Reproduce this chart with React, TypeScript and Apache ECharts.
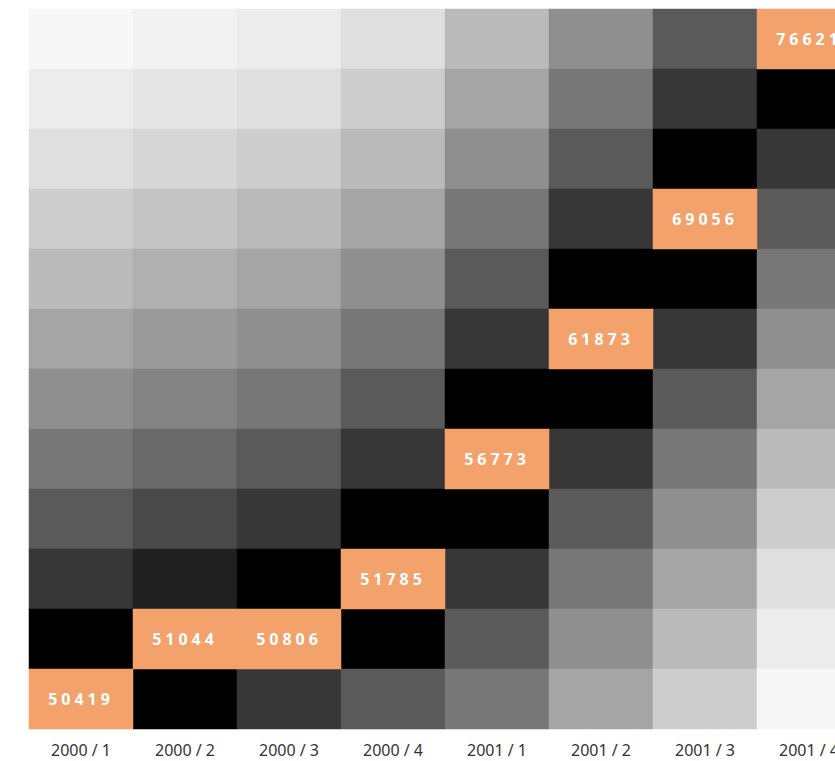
import React, { useEffect, useRef } from "react";
import * as echarts from "echarts";

const periods = ["2000 / 1", "2000 / 2", "2000 / 3", "2000 / 4", "2001 / 1", "2001 / 2", "2001 / 3", "2001 / 4"];
const rowBins = ["r0", "r1", "r2", "r3", "r4", "r5", "r6", "r7", "r8", "r9", "r10", "r11"];

// row (from top) of the highlighted cell in each period, and its value
const peakRow = [11, 10, 10, 9, 7, 5, 3, 0];
const peakValue = [50419, 51044, 50806, 51785, 56773, 61873, 69056, 76621];

// shade level of each cell (rows from top); 0 marks the highlighted cell
const levels = [
  [11, 10.5, 10, 9, 7, 5, 3, 0],
  [10, 9.5, 9, 8, 6, 4, 2, 1],
  [9, 8.5, 8, 7, 5, 3, 1, 2],
  [8, 7.5, 7, 6, 4, 2, 0, 3],
  [7, 6.5, 6, 5, 3, 1, 1, 4],
  [6, 5.5, 5, 4, 2, 0, 2, 5],
  [5, 4.5, 4, 3, 1, 1, 3, 6],
  [4, 3.5, 3, 2, 0, 2, 4, 7],
  [3, 2.5, 2, 1, 1, 3, 5, 8],
  [2, 1.6, 1, 0, 2, 4, 6, 9],
  [1, 0, 0, 1, 3, 5, 7, 10],
  [0, 1, 2, 3, 4, 6, 8, 11],
];

const grayScale = ["#000000", "#373737", "#5a5a5a", "#777777", "#8f8f8f", "#a5a5a5", "#bababa", "#cdcdcd", "#dfdfdf", "#ececec", "#f7f7f7"];
const peakColor = "#f2a26a";

export default function App() {
  const ref = useRef<HTMLDivElement>(null);
  useEffect(() => {
    const chart = echarts.init(ref.current!, null, { renderer: "svg" });
    const grayData: number[][] = [];
    levels.forEach((row, r) =>
      row.forEach((lv, c) => {
        if (lv > 0) grayData.push([c, r, lv]);
      })
    );
    const peakData = peakValue.map((v, c) => [c, peakRow[c], v]);
    chart.setOption({
      animation: false,
      grid: { left: 29, top: 9, width: 832, height: 720 },
      xAxis: {
        type: "category",
        data: periods,
        axisLine: { show: false },
        axisTick: { show: false },
        axisLabel: { color: "#333", fontSize: 16, fontFamily: "Noto Sans", margin: 13 },
        splitArea: { show: false },
      },
      yAxis: {
        type: "category",
        data: rowBins,
        inverse: true,
        show: false,
      },
      visualMap: [
        {
          show: false,
          seriesIndex: 0,
          min: 1,
          max: 11,
          calculable: false,
          inRange: { color: grayScale },
        },
        {
          show: false,
          seriesIndex: 1,
          min: 0,
          max: 100000,
          calculable: false,
          inRange: { color: [peakColor, peakColor] },
        },
      ],
      series: [
        {
          type: "heatmap",
          data: grayData,
          itemStyle: { borderWidth: 0 },
          emphasis: { disabled: true },
        },
        {
          type: "heatmap",
          data: peakData,
          itemStyle: { borderWidth: 0 },
          label: {
            show: true,
            color: "#fff",
            fontWeight: "bold",
            fontSize: 16,
            fontFamily: "Noto Sans",
            formatter: (p: any) => String(p.value[2]),
          },
          emphasis: { disabled: true },
        },
      ],
    });
    return () => chart.dispose();
  }, []);
  return (
    <div style={{ position: "fixed", left: 0, top: 0, width: 835, height: 761, overflow: "hidden", background: "#fff" }}>
      <style>{`.hm svg text[fill="#fff"], .hm svg text[fill="rgb(255,255,255)"], .hm svg text[fill="#ffffff"] { letter-spacing: 4px; }`}</style>
      <div className="hm" ref={ref} style={{ width: 880, height: 761 }} />
    </div>
  );
}
